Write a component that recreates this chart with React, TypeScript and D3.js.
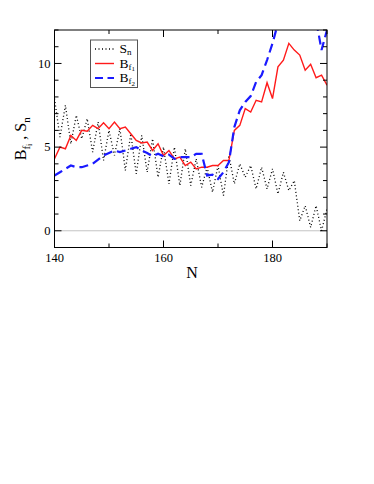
import * as d3 from "d3";

// neutron number
const nValues = d3.range(140, 191);

// S_n (dotted, odd-even staggering)
const snValues = [
  7.9, 5.6, 7.5, 5.2, 6.9, 5.5, 6.7, 4.7, 6.5, 4.2,
  6.0, 4.5, 6.1, 3.6, 5.8, 3.4, 5.7, 3.5, 5.5, 3.2,
  5.0, 2.8, 5.0, 2.7, 4.9, 2.7, 4.3, 2.6, 3.8, 2.3,
  3.9, 2.1, 4.5, 2.8, 4.0, 3.2, 3.9, 2.5, 3.8, 2.5,
  3.7, 2.2, 3.5, 2.4, 3.0, 0.6, 1.5, 0.2, 1.5, 0.0,
  1.3,
];

// B_f1 (red solid)
const bf1Values = [
  4.3, 5.0, 4.9, 5.7, 5.4, 6.0, 5.95, 6.3, 6.1, 6.45,
  6.1, 6.5, 6.1, 6.2, 5.8, 5.4, 5.25, 5.3, 4.8, 5.2,
  4.5, 4.8, 4.3, 4.4, 3.9, 4.1, 3.7, 3.8, 3.8, 3.9,
  3.9, 4.2, 4.2, 6.0, 6.3, 7.3, 7.1, 7.8, 7.7, 8.85,
  7.9, 9.8, 10.2, 11.2, 10.8, 10.5, 9.6, 9.95, 9.15, 9.3,
  8.7,
];

// B_f2 (blue dashed)
const bf2Values = [
  3.3, 3.5, 3.7, 3.9, 3.8, 3.8, 3.9, 4.0, 4.25, 4.5,
  4.65, 4.8, 4.7, 4.8, 4.9, 5.0, 4.8, 4.65, 4.45, 4.6,
  4.45, 4.55, 4.3, 4.4, 4.4, 4.4, 4.6, 4.6, 3.3, 3.35,
  3.1, 3.5, 4.1, 6.2, 7.2, 7.7, 8.05, 8.9, 9.3, 10.2,
  11.2, 12.4, 13.0, 13.3, 13.4, 13.4, 13.3, 13.0, 12.6, 10.8,
  12.0,
];

const xTicks = [140, 150, 160, 170, 180, 190];
const xLabels = [140, 160, 180];
const yTicks = d3.range(-1, 13);
const yLabels = [0, 5, 10];

const W = 374;
const H = 484;
const left = 54.5;
const right = 327;
const top = 30;
const bottom = 247.5;
const serif = "'Liberation Serif', 'DejaVu Serif', serif";

export default function App() {
  const x = d3.scaleLinear().domain([140, 190]).range([left, right]);
  const y = d3.scaleLinear().domain([-1, 12]).range([bottom, top]);

  const line = d3
    .line<number>()
    .x((_, i) => x(nValues[i]))
    .y((d) => y(d));

  return (
    <svg
      width={W}
      height={H}
      style={{ position: "absolute", left: 0, top: 0, background: "#fff" }}
    >
      <defs>
        <clipPath id="plot">
          <rect x={left} y={top} width={right - left} height={bottom - top} />
        </clipPath>
      </defs>

      {/* zero line */}
      <line
        x1={left}
        x2={right}
        y1={y(0)}
        y2={y(0)}
        stroke="#888"
        strokeWidth={1}
        strokeDasharray="1,1"
      />

      <g clipPath="url(#plot)" fill="none">
        <path
          d={line(snValues) ?? ""}
          stroke="#000"
          strokeWidth={1.3}
          strokeDasharray="1,2.5"
        />
        <path d={line(bf1Values) ?? ""} stroke="#ff1a1a" strokeWidth={1.4} />
        <path
          d={line(bf2Values) ?? ""}
          stroke="#1a1aff"
          strokeWidth={2.2}
          strokeDasharray="9,5"
        />
      </g>

      {/* frame */}
      <rect
        x={left}
        y={top}
        width={right - left}
        height={bottom - top}
        fill="none"
        stroke="#000"
        strokeWidth={1}
      />

      {/* x ticks, inward, top and bottom */}
      {xTicks.map((t) => {
        const len = xLabels.includes(t) ? 7 : 4;
        return (
          <g key={`xt${t}`} stroke="#000" strokeWidth={1}>
            <line x1={x(t)} x2={x(t)} y1={bottom} y2={bottom - len} />
            <line x1={x(t)} x2={x(t)} y1={top} y2={top + len} />
          </g>
        );
      })}
      {/* y ticks, inward, left and right */}
      {yTicks.map((t) => {
        const len = yLabels.includes(t) ? 7 : 4;
        return (
          <g key={`yt${t}`} stroke="#000" strokeWidth={1}>
            <line x1={left} x2={left + len} y1={y(t)} y2={y(t)} />
            <line x1={right} x2={right - len} y1={y(t)} y2={y(t)} />
          </g>
        );
      })}

      {xLabels.map((t) => (
        <text
          key={`xl${t}`}
          x={x(t)}
          y={262}
          textAnchor="middle"
          fontFamily={serif}
          fontSize={12.5}
        >
          {t}
        </text>
      ))}
      {yLabels.map((t) => (
        <text
          key={`yl${t}`}
          x={left - 4}
          y={y(t) + 4.3}
          textAnchor="end"
          fontFamily={serif}
          fontSize={12.5}
        >
          {t}
        </text>
      ))}

      {/* axis titles */}
      <text x={192} y={278} textAnchor="middle" fontFamily={serif} fontSize={16}>
        N
      </text>
      <text
        transform={`translate(26,${(top + bottom) / 2}) rotate(-90)`}
        textAnchor="middle"
        fontFamily={serif}
        fontSize={16}
      >
        B
        <tspan fontSize={11} dy={4}>f</tspan>
        <tspan fontSize={8} dy={2}>i</tspan>
        <tspan dy={-6}> ,  S</tspan>
        <tspan fontSize={11} dy={4}>n</tspan>
      </text>

      {/* legend */}
      <rect
        x={90.5}
        y={40}
        width={47}
        height={47.5}
        fill="#fff"
        stroke="#555"
        strokeWidth={1}
      />
      <g fontFamily={serif} fontSize={13.5}>
        <line x1={95} x2={114} y1={49} y2={49} stroke="#000" strokeWidth={1.3} strokeDasharray="1,2.5" />
        <text x={119.5} y={53}>
          S<tspan fontSize={9} dy={2}>n</tspan>
        </text>
        <line x1={95} x2={114} y1={63.5} y2={63.5} stroke="#ff1a1a" strokeWidth={1.4} />
        <text x={119.5} y={67.5}>
          B<tspan fontSize={9} dy={2}>f</tspan>
          <tspan fontSize={7} dy={1.5}>1</tspan>
        </text>
        <line x1={95} x2={114} y1={78} y2={78} stroke="#1a1aff" strokeWidth={2.2} strokeDasharray="8,4.5" />
        <text x={119.5} y={82}>
          B<tspan fontSize={9} dy={2}>f</tspan>
          <tspan fontSize={7} dy={1.5}>2</tspan>
        </text>
      </g>
    </svg>
  );
}
